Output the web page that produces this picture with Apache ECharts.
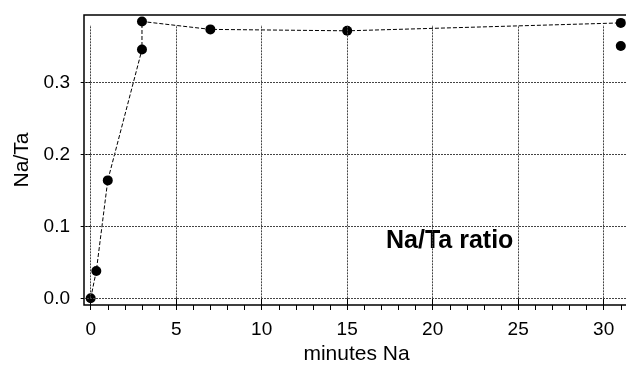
<!DOCTYPE html>
<html>
<head>
<meta charset="utf-8">
<script src="https://cdn.jsdelivr.net/npm/echarts@6/dist/echarts.min.js"></script>
<style>
  html, body { margin: 0; padding: 0; background: #fff; }
  #chart { width: 626px; height: 365px; }
</style>
</head>
<body>
<div id="chart"></div>
<script>
// Na/Ta ratio versus Na exposure time (minutes)
const minutesNa = [0, 0.33, 1, 3, 3, 7, 15, 31];
const ratioNaTa = [0.0, 0.038, 0.164, 0.346, 0.385, 0.374, 0.372, 0.383];
// separate measurement at 31 min, not joined to the trace
const extraMinutes = [31];
const extraRatio = [0.351];

const xMajorTicks = [0, 5, 10, 15, 20, 25, 30];
const xMinorTicks = [0,1,2,3,4,5,6,7,8,9,10,11,12,13,14,15,16,17,18,19,20,21,22,23,24,25,26,27,28,29,30,31];
const yMajorTicks = [0.0, 0.1, 0.2, 0.3];

const X_MIN = -0.39, X_MAX = 31.48;
const Y_MIN = -0.0093, Y_MAX = 0.394;
const GRID_TOP_VALUE = 0.38;   // vertical grid lines stop here
const FONT = 'Liberation Sans, Arial, Helvetica, sans-serif';

const traceData = minutesNa.map((m, i) => [m, ratioNaTa[i]]);
const extraData = extraMinutes.map((m, i) => [m, extraRatio[i]]);

const gridLineStyle = { color: '#444', width: 1, type: [2, 1] };
const gridLines = [];
xMajorTicks.forEach(v => gridLines.push([{ coord: [v, 0] }, { coord: [v, GRID_TOP_VALUE] }]));
yMajorTicks.forEach(v => gridLines.push([{ coord: [X_MIN, v] }, { coord: [X_MAX, v] }]));

const chart = echarts.init(document.getElementById('chart'), null, { renderer: 'canvas' });
chart.setOption({
  animation: false,
  backgroundColor: '#fff',
  grid: {
    left: 84, top: 15, width: 545, height: 290,
    outerBoundsMode: 'none', containLabel: false,
    show: true, borderColor: '#000', borderWidth: 1.5, backgroundColor: 'transparent'
  },
  xAxis: [
    {
      type: 'value', min: X_MIN, max: X_MAX, position: 'bottom',
      name: 'minutes Na', nameLocation: 'middle', nameGap: 39,
      nameTextStyle: { fontFamily: FONT, fontSize: 21, color: '#000' },
      axisLine: { show: false },
      axisTick: { show: true, inside: false, length: 9, customValues: xMajorTicks,
                  lineStyle: { color: '#000', width: 1 } },
      axisLabel: { show: true, customValues: xMajorTicks, margin: 15,
                   fontFamily: FONT, fontSize: 19, color: '#000' },
      splitLine: { show: false }
    },
    {
      type: 'value', min: X_MIN, max: X_MAX, position: 'bottom',
      axisLine: { show: false },
      axisTick: { show: true, inside: false, length: 5, customValues: xMinorTicks,
                  lineStyle: { color: '#000', width: 1 } },
      axisLabel: { show: false },
      splitLine: { show: false }
    }
  ],
  yAxis: {
    type: 'value', min: Y_MIN, max: Y_MAX,
    name: 'Na/Ta', nameLocation: 'middle', nameGap: 50,
    nameTextStyle: { fontFamily: FONT, fontSize: 21, color: '#000' },
    axisLine: { show: false },
    axisTick: { show: true, inside: false, length: 10, customValues: yMajorTicks,
                lineStyle: { color: '#000', width: 1 } },
    axisLabel: { show: true, customValues: yMajorTicks, margin: 14,
                 fontFamily: FONT, fontSize: 19, color: '#000',
                 formatter: v => v.toFixed(1) },
    splitLine: { show: false }
  },
  graphic: [{
    type: 'text', left: 386, top: 229,
    style: { text: 'Na/Ta ratio', fontFamily: FONT, fontSize: 25, fontWeight: 'bold', fill: '#000' }
  }],
  series: [
    {
      type: 'line', data: [], silent: true, xAxisIndex: 0,
      markLine: { silent: true, symbol: ['none', 'none'], label: { show: false },
                  lineStyle: gridLineStyle, data: gridLines, animation: false }
    },
    {
      type: 'line', data: traceData, xAxisIndex: 0,
      symbol: 'circle', symbolSize: 10,
      itemStyle: { color: '#000', opacity: 1 },
      lineStyle: { color: '#000', width: 1, type: [4, 2] },
      clip: true, z: 3
    },
    {
      type: 'scatter', data: extraData, xAxisIndex: 0,
      symbol: 'circle', symbolSize: 10,
      itemStyle: { color: '#000', opacity: 1 }, z: 3
    }
  ]
});
</script>
</body>
</html>
